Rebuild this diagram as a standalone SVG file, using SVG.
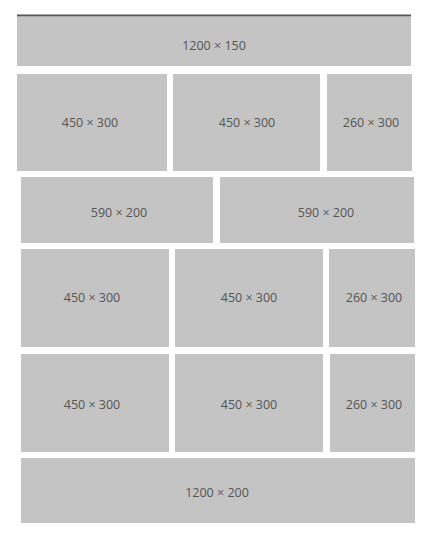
<svg xmlns="http://www.w3.org/2000/svg" width="434" height="541" viewBox="0 0 434 541">
<style>
.b{fill:#c4c4c4}
.t{font-family:"Open Sans","Noto Sans",sans-serif;font-size:12.5px;fill:#555555;text-anchor:middle;dominant-baseline:central}
</style>
<rect width="434" height="541" fill="#ffffff"/>
<line x1="17" y1="15.5" x2="411" y2="15.5" stroke="#555555" stroke-width="2"/>
<g id="n1"><rect class="b" x="17" y="17" width="394" height="49"/><text class="t" x="214" y="45">1200 × 150</text></g>
<g id="n2"><rect class="b" x="17" y="74" width="150" height="97"/><text class="t" x="90" y="122">450 × 300</text></g>
<g id="n3"><rect class="b" x="173" y="74" width="147" height="97"/><text class="t" x="247" y="122">450 × 300</text></g>
<g id="n4"><rect class="b" x="327" y="74" width="85" height="97"/><text class="t" x="371" y="122">260 × 300</text></g>
<g id="n5"><rect class="b" x="21" y="177" width="192" height="66"/><text class="t" x="119" y="212">590 × 200</text></g>
<g id="n6"><rect class="b" x="220" y="177" width="194" height="66"/><text class="t" x="326" y="212">590 × 200</text></g>
<g id="n7"><rect class="b" x="21" y="249" width="148" height="98"/><text class="t" x="92" y="297">450 × 300</text></g>
<g id="n8"><rect class="b" x="175" y="249" width="148" height="98"/><text class="t" x="249" y="297">450 × 300</text></g>
<g id="n9"><rect class="b" x="329" y="249" width="86" height="98"/><text class="t" x="374" y="297">260 × 300</text></g>
<g id="n10"><rect class="b" x="21" y="354" width="148" height="98"/><text class="t" x="92" y="404">450 × 300</text></g>
<g id="n11"><rect class="b" x="175" y="354" width="148" height="98"/><text class="t" x="249" y="404">450 × 300</text></g>
<g id="n12"><rect class="b" x="330" y="354" width="85" height="98"/><text class="t" x="374" y="404">260 × 300</text></g>
<g id="n13"><rect class="b" x="21" y="458" width="394" height="65"/><text class="t" x="217" y="492">1200 × 200</text></g>
<g id="connectors"></g>
</svg>
